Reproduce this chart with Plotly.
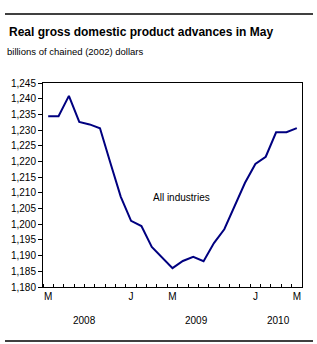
import plotly.graph_objects as go

months = ["May08", "Jun08", "Jul08", "Aug08", "Sep08", "Oct08", "Nov08", "Dec08",
          "Jan09", "Feb09", "Mar09", "Apr09", "May09", "Jun09", "Jul09", "Aug09",
          "Sep09", "Oct09", "Nov09", "Dec09", "Jan10", "Feb10", "Mar10", "Apr10", "May10"]
gdp = [1234.4, 1234.4, 1240.9, 1232.6, 1231.8, 1230.6, 1219.6, 1208.8,
       1201.1, 1199.4, 1192.8, 1189.4, 1186.0, 1188.3, 1189.6, 1188.2,
       1194.0, 1198.4, 1205.6, 1213.2, 1219.2, 1221.5, 1229.3, 1229.3, 1230.6]
tick_idx = [0, 8, 12, 20, 24]
tick_text = ["M", "J", "M", "J", "M"]
year_labels = ["2008", "2009", "2010"]
year_pos = [3.5, 14.3, 22.2]
series_label = "All industries"
label_pos = (12.9, 1208.6)

FONT = "Liberation Sans, Arial, sans-serif"
x = list(range(len(months)))

fig = go.Figure()
fig.add_trace(go.Scatter(x=x, y=gdp, mode="lines",
                         line=dict(color="#000080", width=2),
                         hoverinfo="skip", showlegend=False))

fig.update_layout(
    width=317, height=344,
    margin=dict(l=43, r=15, t=83, b=57),
    paper_bgcolor="white", plot_bgcolor="white",
    font=dict(family=FONT, size=10, color="black"),
    title=dict(text="<b>Real gross domestic product advances in May</b>",
               font=dict(family=FONT, size=12, color="black"),
               x=9 / 317, xanchor="left", xref="container",
               y=1 - 32 / 344, yanchor="middle", yref="container"),
    xaxis=dict(range=[-0.5, len(months) - 0.5], tickmode="array",
               tickvals=tick_idx, ticktext=tick_text, ticks="",
               showgrid=False, zeroline=False, showline=True,
               linecolor="black", linewidth=1, mirror=True,
               tickfont=dict(size=10),
               minor=dict(tickmode="linear", tick0=0.5, dtick=1, ticks="inside",
                          ticklen=3, tickcolor="black", showgrid=False)),
    yaxis=dict(range=[1180, 1245], dtick=5, tickformat=",", ticks="outside",
               ticklen=4, tickcolor="black", showgrid=False, zeroline=False,
               showline=True, linecolor="black", linewidth=1, mirror=True,
               tickfont=dict(size=10)),
)

fig.add_annotation(text="billions of chained (2002) dollars", xref="paper", yref="paper",
                   x=(5 - 43) / 259, y=(287 - 51.7) / 204, xanchor="left", yanchor="middle",
                   showarrow=False, font=dict(size=9.5))
for lbl, pos in zip(year_labels, year_pos):
    fig.add_annotation(text=lbl, xref="x", yref="paper", x=pos, y=(287 - 320) / 204,
                       xanchor="center", yanchor="middle", showarrow=False,
                       font=dict(size=10))
fig.add_annotation(text=series_label, xref="x", yref="y", x=label_pos[0], y=label_pos[1],
                   xanchor="center", yanchor="middle", showarrow=False, font=dict(size=10))

for ypix in (14, 341):
    fig.add_shape(type="line", xref="paper", yref="paper",
                  x0=(5 - 43) / 259, x1=(313 - 43) / 259,
                  y0=(287 - ypix) / 204, y1=(287 - ypix) / 204,
                  line=dict(color="black", width=1.5))

fig.write_html("out.html")
